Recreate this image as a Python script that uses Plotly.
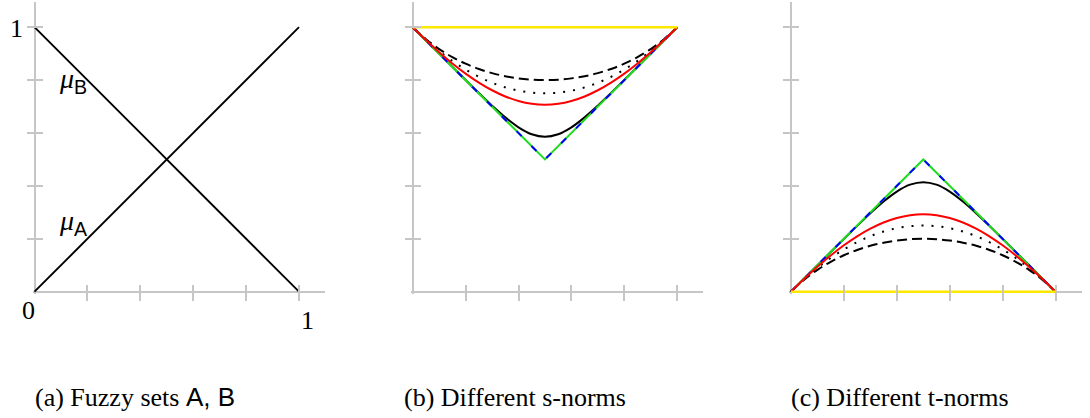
import plotly.graph_objects as go

W, H = 1090, 418
S = 264.5          # pixels per data unit
Y0 = 291.7         # pixel row of y = 0
X0 = [34.5, 412.7, 791.0]   # pixel column of x = 0 for each panel
GREY = "#c6c6c6"

# ---------------- data ----------------
tick_vals = [0.2, 0.4, 0.6, 0.8, 1.0]

mu_x = [0, 1]
mu_a = [0, 1]
mu_b = [1, 0]

x_two = [0, 1]
x_three = [0, 0.5, 1]
x_pts = [0, 0.05, 0.1, 0.15, 0.2, 0.25, 0.3, 0.35, 0.4, 0.45, 0.5,
         0.55, 0.6, 0.65, 0.7, 0.75, 0.8, 0.85, 0.9, 0.95, 1]

# s-norms of mu_A and mu_B
s_drastic = [1, 1]
s_max = [1, 0.5, 1]
s_dombi = [1, 0.95, 0.9, 0.8501, 0.8003, 0.7512, 0.7035, 0.6591, 0.6214, 0.5953, 0.5858,
           0.5953, 0.6214, 0.6591, 0.7035, 0.7512, 0.8003, 0.8501, 0.9, 0.95, 1]
s_yager = [1, 0.9513, 0.9055, 0.8631, 0.8246, 0.7906, 0.7616, 0.7382, 0.7211, 0.7106, 0.7071,
           0.7106, 0.7211, 0.7382, 0.7616, 0.7906, 0.8246, 0.8631, 0.9055, 0.9513, 1]
s_algebraic = [1, 0.9525, 0.91, 0.8725, 0.84, 0.8125, 0.79, 0.7725, 0.76, 0.7525, 0.75,
               0.7525, 0.76, 0.7725, 0.79, 0.8125, 0.84, 0.8725, 0.91, 0.9525, 1]
s_einstein = [1, 0.9547, 0.9174, 0.8869, 0.8621, 0.8421, 0.8264, 0.8147, 0.8065, 0.8016, 0.8,
              0.8016, 0.8065, 0.8147, 0.8264, 0.8421, 0.8621, 0.8869, 0.9174, 0.9547, 1]

# t-norms of mu_A and mu_B
t_drastic = [0, 0]
t_min = [0, 0.5, 0]
t_dombi = [0, 0.05, 0.1, 0.1499, 0.1997, 0.2488, 0.2965, 0.3409, 0.3786, 0.4047, 0.4142,
           0.4047, 0.3786, 0.3409, 0.2965, 0.2488, 0.1997, 0.1499, 0.1, 0.05, 0]
t_yager = [0, 0.0487, 0.0945, 0.1369, 0.1754, 0.2094, 0.2384, 0.2618, 0.2789, 0.2894, 0.2929,
           0.2894, 0.2789, 0.2618, 0.2384, 0.2094, 0.1754, 0.1369, 0.0945, 0.0487, 0]
t_algebraic = [0, 0.0475, 0.09, 0.1275, 0.16, 0.1875, 0.21, 0.2275, 0.24, 0.2475, 0.25,
               0.2475, 0.24, 0.2275, 0.21, 0.1875, 0.16, 0.1275, 0.09, 0.0475, 0]
t_einstein = [0, 0.0454, 0.0826, 0.1131, 0.1379, 0.1579, 0.1736, 0.1853, 0.1935, 0.1984, 0.2,
              0.1984, 0.1935, 0.1853, 0.1736, 0.1579, 0.1379, 0.1131, 0.0826, 0.0454, 0]

captions = ["(a) Fuzzy sets <span style='font-family:Liberation Sans, Arial'>A, B</span>",
            "(b) Different s-norms",
            "(c) Different t-norms"]

# ---------------- figure ----------------
fig = go.Figure()

def line(x, y, ax, color, width=2, dash="solid", shape="linear"):
    fig.add_trace(go.Scatter(x=x, y=y, mode="lines", xaxis="x" + ax, yaxis="y" + ax,
                             line=dict(color=color, width=width, dash=dash, shape=shape),
                             hoverinfo="skip", showlegend=False))

# panel (a)
line(mu_x, mu_a, "", "black", 1.9)
line(mu_x, mu_b, "", "black", 1.9)

# panel (b)
line(x_pts, s_einstein, "2", "black", 2, "10px,5px", "spline")
line(x_pts, s_algebraic, "2", "black", 2, "2px,8px", "spline")
line(x_pts, s_dombi, "2", "black", 2, shape="spline")
line(x_three, s_max, "2", "#1edc1e", 2)
line(x_three, s_max, "2", "#0000ff", 2, "7px,14px")
line(x_pts, s_yager, "2", "#ff0000", 2, shape="spline")
line(x_two, s_drastic, "2", "#ffe800", 2.5)

# panel (c)
line(x_pts, t_einstein, "3", "black", 2, "10px,5px", "spline")
line(x_pts, t_algebraic, "3", "black", 2, "2px,8px", "spline")
line(x_pts, t_dombi, "3", "black", 2, shape="spline")
line(x_three, t_min, "3", "#1edc1e", 2)
line(x_three, t_min, "3", "#0000ff", 2, "7px,14px")
line(x_pts, t_yager, "3", "#ff0000", 2, shape="spline")
line(x_two, t_drastic, "3", "#ffe800", 2.5)

layout = dict(width=W, height=H, margin=dict(l=0, r=0, t=0, b=0),
              paper_bgcolor="white", plot_bgcolor="white", showlegend=False)

for i, x0 in enumerate(X0):
    n = "" if i == 0 else str(i + 1)
    common = dict(ticks="outside", ticklen=16, tickwidth=2, tickcolor=GREY,
                  tickvals=tick_vals, showticklabels=False, showgrid=False,
                  zeroline=True, zerolinecolor=GREY, zerolinewidth=2,
                  showline=False, fixedrange=True, anchor="free")
    layout["xaxis" + n] = dict(domain=[(x0 - 2) / W, (x0 + 290.5) / W],
                               range=[-2 / S, 290.5 / S],
                               position=(H - (Y0 - 8)) / H, **common)
    layout["yaxis" + n] = dict(domain=[(H - (Y0 + 2)) / H, (H - 2) / H],
                               range=[-2 / S, (Y0 - 2) / S],
                               position=(x0 + 8) / W, **common)

ann = []
def text(t, px, py, size=26, family="Liberation Serif, Times New Roman, serif", xanchor="center"):
    ann.append(dict(text=t, x=px / W, y=(H - py) / H, xref="paper", yref="paper",
                    showarrow=False, xanchor=xanchor, yanchor="middle",
                    font=dict(family=family, size=size, color="black")))

text("1", 16, 29)
text("0", 28, 310)
text("1", 307, 320)
mu_a_lbl = "<i>μ</i><sub><span style='font-family:Liberation Sans, Arial'>A</span></sub>"
mu_b_lbl = "<i>μ</i><sub><span style='font-family:Liberation Sans, Arial'>B</span></sub>"
text(mu_b_lbl, 57, 80, size=28, xanchor="left")
text(mu_a_lbl, 57, 222, size=28, xanchor="left")

cap_x = [33, 402, 789]
for cx, c in zip(cap_x, captions):
    text(c, cx, 397, xanchor="left")

layout["annotations"] = ann
fig.update_layout(**layout)
fig.write_html("out.html")
